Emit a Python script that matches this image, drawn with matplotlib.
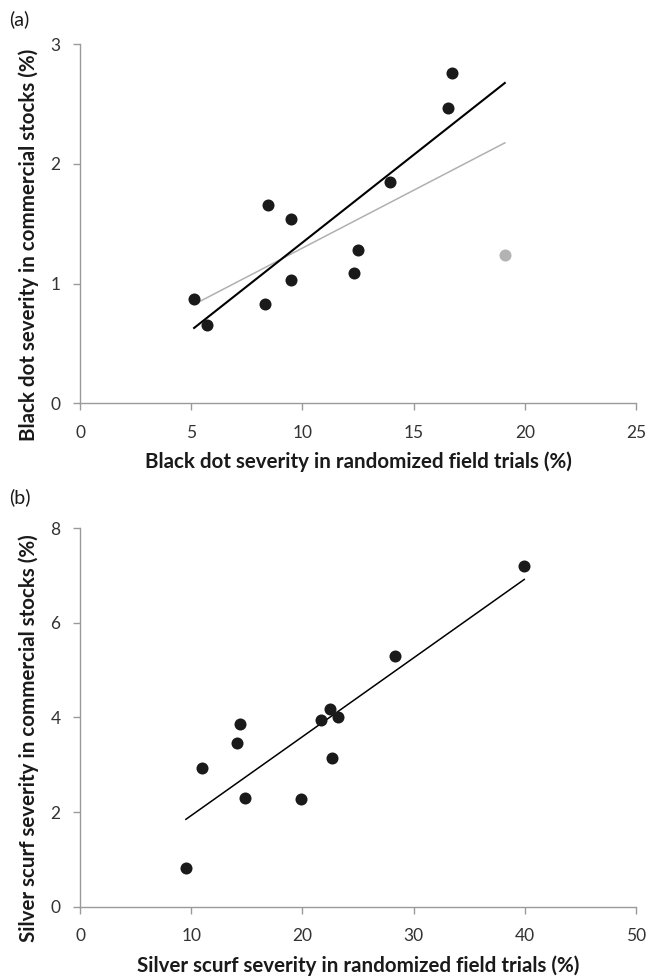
import numpy as np
import matplotlib
matplotlib.use("Agg")
import matplotlib.pyplot as plt

plt.rcParams['font.family'] = ['Lato', 'DejaVu Sans']

# panel (a): black dot
bd_field = [5.13, 5.70, 8.32, 8.47, 9.47, 9.50, 12.30, 12.52, 13.92, 16.53, 16.71]
bd_comm = [0.87, 0.65, 0.83, 1.66, 1.54, 1.03, 1.09, 1.28, 1.85, 2.47, 2.76]
bd_out_field = [19.10]
bd_out_comm = [1.24]

# panel (b): silver scurf
ss_field = [9.52, 10.95, 14.12, 14.39, 14.84, 19.9, 21.63, 22.5, 23.16, 22.62, 28.30, 39.95]
ss_comm = [0.82, 2.94, 3.46, 3.86, 2.29, 2.27, 3.94, 4.17, 4.01, 3.15, 5.30, 7.20]

spine_col = '#9a9a9a'
tick_fs = 12.5
lab_fs = 14.8


def style(ax):
    for s in ['top', 'right']:
        ax.spines[s].set_visible(False)
    for s in ['left', 'bottom']:
        ax.spines[s].set_color(spine_col)
        ax.spines[s].set_linewidth(1.0)
    ax.tick_params(axis='both', colors=spine_col, labelcolor='#333333',
                   labelsize=tick_fs, length=5, width=1.0, direction='out')
    ax.tick_params(axis='x', pad=10.5)
    ax.tick_params(axis='y', pad=9)


fig = plt.figure(figsize=(6.48, 9.8), dpi=100)

# (a)
ax1 = fig.add_axes([0.1235, 0.5885, 0.858, 0.3663])
xa_all = np.array(bd_field + bd_out_field)
ya_all = np.array(bd_comm + bd_out_comm)
xr = np.array([xa_all.min(), xa_all.max()])
p_all = np.polyfit(xa_all, ya_all, 1)
p_in = np.polyfit(bd_field, bd_comm, 1)
ax1.plot(xr, np.polyval(p_all, xr), color='#b0b0b0', lw=1.1, zorder=2)
ax1.plot(xr, np.polyval(p_in, xr), color='black', lw=1.5, zorder=3)
ax1.scatter(bd_field, bd_comm, s=75, color='#1a1a1a', zorder=4, linewidths=0)
ax1.scatter(bd_out_field, bd_out_comm, s=75, color='#b3b3b3', zorder=4, linewidths=0)
ax1.set_xlim(0, 25)
ax1.set_ylim(0, 3)
ax1.set_xticks([0, 5, 10, 15, 20, 25])
ax1.set_yticks([0, 1, 2, 3])
style(ax1)
ax1.set_xlabel('Black dot severity in randomized field trials (%)',
               fontsize=lab_fs, fontweight='bold', labelpad=8, color='#1a1a1a')
ax1.set_ylabel('Black dot severity in commercial stocks (%)',
               fontsize=lab_fs, fontweight='bold', labelpad=8, color='#1a1a1a')
ax1.yaxis.label.set_y(0.44)
fig.text(0.014, 0.9806, '(a)', fontsize=14, va='center', color='#1a1a1a')

# (b)
ax2 = fig.add_axes([0.1235, 0.0748, 0.858, 0.3864])
xb = np.array(ss_field)
xrb = np.array([xb.min(), xb.max()])
pb = np.polyfit(ss_field, ss_comm, 1)
ax2.plot(xrb, np.polyval(pb, xrb), color='black', lw=1.1, zorder=3)
ax2.scatter(ss_field, ss_comm, s=75, color='#1a1a1a', zorder=4, linewidths=0)
ax2.set_xlim(0, 50)
ax2.set_ylim(0, 8)
ax2.set_xticks([0, 10, 20, 30, 40, 50])
ax2.set_yticks([0, 2, 4, 6, 8])
style(ax2)
ax2.set_xlabel('Silver scurf severity in randomized field trials (%)',
               fontsize=lab_fs, fontweight='bold', labelpad=8, color='#1a1a1a')
ax2.set_ylabel('Silver scurf severity in commercial stocks (%)',
               fontsize=lab_fs, fontweight='bold', labelpad=8, color='#1a1a1a')
ax2.yaxis.label.set_y(0.445)
fig.text(0.014, 0.4929, '(b)', fontsize=14, va='center', color='#1a1a1a')

fig.savefig('out.png', dpi=100)
